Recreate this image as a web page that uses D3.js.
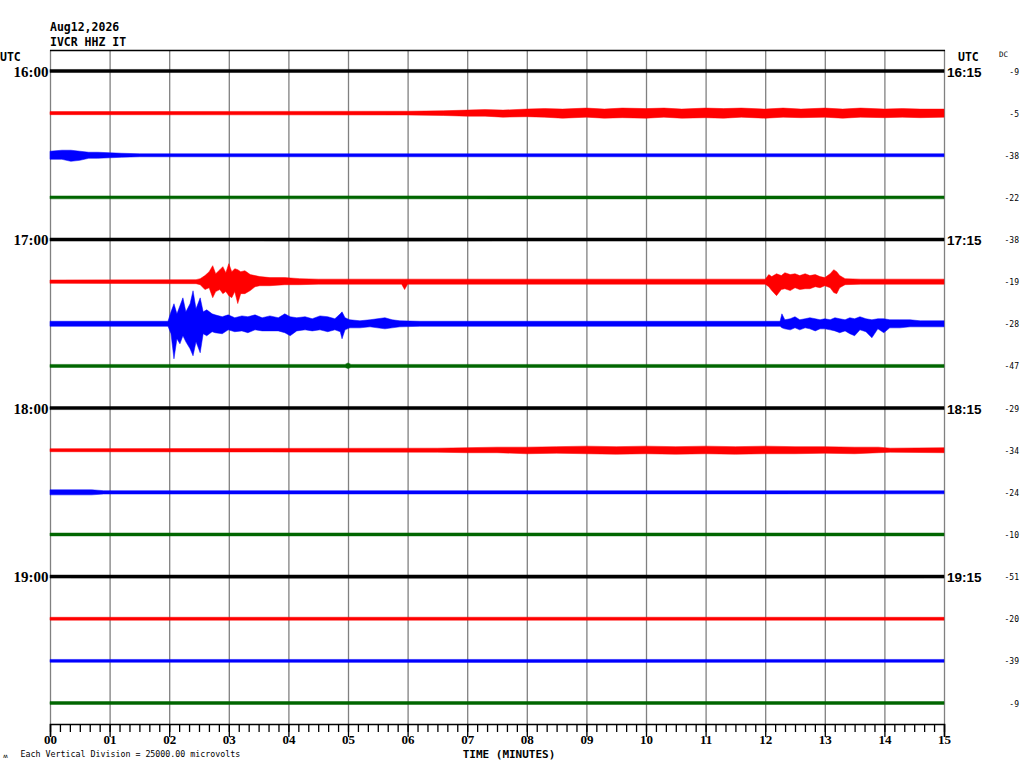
<!DOCTYPE html>
<html>
<head>
<meta charset="utf-8">
<script src="https://cdn.jsdelivr.net/npm/d3@7"></script>
<style>
  body { margin: 0; background: #fff; }
  svg { display: block; }
  .mono { font-family: "DejaVu Sans Mono", monospace; font-weight: bold; }
</style>
</head>
<body>
<svg id="chart" width="1024" height="768"></svg>
<script>
'use strict';

// Helicorder rows: one per 15 minutes
var rowStarts = ['16:00', '16:15', '16:30', '16:45', '17:00', '17:15', '17:30', '17:45',
                 '18:00', '18:15', '18:30', '18:45', '19:00', '19:15', '19:30', '19:45'];
var hourLabels = ['16:00', '17:00', '18:00', '19:00'];
var rightLabels = ['16:15', '17:15', '18:15', '19:15'];
var dcOffsets = [-9, -5, -38, -22, -38, -19, -28, -47, -29, -34, -24, -10, -51, -20, -39, -9];
var minuteTicks = ['00', '01', '02', '03', '04', '05', '06', '07', '08', '09', '10', '11', '12', '13', '14', '15'];
var microvoltsPerDivision = 25000;

// envelopes: [minute, up (uV), down (uV)]
var trace1600 = [[0, 900, 900], [4, 950, 900], [8, 900, 950], [12, 950, 900], [15, 900, 900]];
var trace1615 = [[0, 900, 900], [6, 1100, 1100], [6.6, 1400, 1400], [7.0, 1800, 1800], [7.3, 2100, 1800],
                 [7.6, 1800, 2400], [8.0, 2400, 2100], [8.3, 2700, 2400], [8.6, 2400, 3000],
                 [9.0, 3000, 2400], [9.3, 2400, 3000], [9.6, 3000, 2700], [10.0, 2700, 3000],
                 [10.3, 3000, 2400], [10.6, 2400, 3000], [11.0, 3000, 2700], [11.3, 2700, 3000],
                 [11.6, 3000, 2400], [12.0, 2400, 3000], [12.3, 3000, 2400], [12.6, 2400, 2700],
                 [13.0, 3000, 2400], [13.3, 2400, 3000], [13.6, 3000, 2400], [14.0, 2400, 2700],
                 [14.3, 2700, 2400], [14.6, 2400, 2700], [15, 2400, 2400]];
var trace1630 = [[0, 2400, 2400], [0.2, 3000, 2400], [0.35, 3000, 3600], [0.5, 2400, 3000],
                 [0.65, 1800, 1800], [0.8, 1800, 1800], [1.0, 1500, 1500], [1.2, 1200, 1200],
                 [1.5, 900, 900], [15, 900, 900]];
var trace1645 = [[0, 850, 850], [5, 900, 850], [10, 850, 900], [15, 850, 850]];
var trace1700 = [[0, 900, 900], [5, 950, 950], [10, 900, 900], [15, 900, 900]];
var trace1715 = [[0, 1000, 1000], [2.45, 1200, 1200], [2.52, 1800, 1800], [2.6, 3600, 4700],
                 [2.67, 5900, 3600], [2.73, 9500, 9500], [2.78, 4700, 5900], [2.85, 7100, 4700],
                 [2.9, 8900, 7100], [2.95, 5300, 5900], [3.0, 10700, 8300], [3.05, 5900, 9500],
                 [3.1, 7700, 5900], [3.15, 7100, 13000], [3.2, 5900, 7100], [3.27, 6500, 7100],
                 [3.36, 4200, 5300], [3.44, 3600, 3000], [3.52, 3000, 2400], [3.69, 2400, 2400],
                 [3.94, 2400, 1800], [4.19, 1800, 1800], [4.5, 1500, 1500], [5.9, 1500, 1500],
                 [5.95, 1500, 4700], [6.0, 1500, 1500], [12.0, 1500, 1500], [12.06, 4200, 3000],
                 [12.11, 3000, 5300], [12.19, 4700, 8300], [12.27, 3600, 4700], [12.33, 5300, 4200],
                 [12.42, 4200, 5300], [12.5, 4700, 3600], [12.58, 3600, 4700], [12.67, 4700, 4200],
                 [12.75, 3600, 4200], [12.84, 4200, 3000], [12.92, 3000, 3600], [13.0, 2400, 2400],
                 [13.09, 4700, 3600], [13.15, 7100, 6500], [13.2, 5900, 7100], [13.25, 3600, 3600],
                 [13.34, 1800, 1800], [13.6, 1500, 1500], [15, 1500, 1500]];
var trace1730 = [[0, 1500, 1500], [1.98, 1500, 1500], [2.03, 7100, 5900], [2.08, 11900, 20800],
                 [2.13, 5900, 8900], [2.18, 10700, 11900], [2.23, 15400, 7100], [2.28, 7100, 10700],
                 [2.35, 11900, 14800], [2.4, 19600, 19000], [2.45, 8900, 10700], [2.52, 15400, 17200],
                 [2.57, 7100, 5900], [2.63, 8300, 7100], [2.72, 5900, 4700], [2.77, 5300, 5300],
                 [2.89, 4200, 5900], [2.99, 5300, 3600], [3.1, 3600, 4700], [3.22, 4700, 4200],
                 [3.32, 4200, 5300], [3.44, 5300, 3600], [3.56, 3600, 4200], [3.69, 4700, 4200],
                 [3.83, 3600, 4200], [3.94, 5900, 5300], [4.03, 4200, 7100], [4.14, 3600, 4200],
                 [4.28, 4200, 3600], [4.4, 3000, 4200], [4.53, 4700, 3600], [4.66, 4200, 4700],
                 [4.78, 3000, 3600], [4.87, 5900, 4700], [4.9, 7100, 8900], [4.95, 3600, 3600],
                 [5.03, 2400, 2400], [5.2, 1800, 2400], [5.37, 2400, 1800], [5.62, 3600, 3000],
                 [5.74, 2400, 2400], [5.87, 1800, 1800], [6.2, 1500, 1500], [12.25, 1500, 1500],
                 [12.28, 5900, 2400], [12.33, 2400, 3000], [12.42, 3000, 3600], [12.5, 4200, 2400],
                 [12.58, 2400, 3600], [12.67, 3000, 2400], [12.75, 3600, 3000], [12.84, 3000, 4200],
                 [12.92, 2400, 3000], [13.0, 3000, 3000], [13.09, 2400, 3600], [13.17, 3600, 4200],
                 [13.25, 3000, 5300], [13.34, 2400, 4200], [13.42, 3600, 5900], [13.5, 3000, 7100],
                 [13.59, 4200, 3600], [13.69, 3000, 4700], [13.79, 2400, 8300], [13.89, 3000, 3000],
                 [13.99, 3000, 5300], [14.09, 2400, 2400], [14.26, 2400, 2400], [14.43, 2400, 1800],
                 [14.6, 1800, 1800], [15, 1800, 1800]];
var trace1745 = [[0, 900, 900], [4.95, 900, 900], [5.0, 1800, 1500], [5.05, 900, 900], [15, 900, 900]];
var trace1800 = [[0, 900, 900], [5, 950, 900], [10, 900, 950], [15, 900, 900]];
var trace1815 = [[0, 900, 900], [6.5, 1200, 1200], [7.0, 1500, 1500], [7.5, 1800, 1500], [8.0, 1800, 2100],
                 [8.5, 2100, 1800], [9.0, 2400, 2100], [9.5, 2100, 2400], [10.0, 2400, 2100],
                 [10.5, 2100, 2400], [11.0, 2400, 2100], [11.5, 2100, 2400], [12.0, 2400, 2100],
                 [12.5, 2100, 2100], [13.0, 2100, 1800], [13.5, 1800, 2100], [13.9, 1800, 1500],
                 [14.1, 1200, 1200], [15, 1500, 1500]];
var trace1830 = [[0, 1500, 1500], [0.7, 1500, 1500], [0.9, 1000, 1000], [15, 900, 900]];
var trace1845 = [[0, 850, 850], [7, 900, 850], [15, 850, 850]];
var trace1900 = [[0, 900, 900], [6, 950, 950], [15, 900, 900]];
var trace1915 = [[0, 850, 850], [8, 900, 850], [15, 850, 850]];
var trace1930 = [[0, 850, 850], [8, 850, 900], [15, 850, 850]];
var trace1945 = [[0, 850, 850], [7, 900, 850], [15, 850, 850]];

var traces = [trace1600, trace1615, trace1630, trace1645, trace1700, trace1715, trace1730, trace1745,
              trace1800, trace1815, trace1830, trace1845, trace1900, trace1915, trace1930, trace1945];

var COLORS = ['#000000', '#ff0000', '#0000ff', '#006600'];

var svg = d3.select('#chart');
var plotLeft = 50, plotRight = 944, plotTop = 50, plotBottom = 724;

var x = d3.scaleLinear().domain([0, 15]).range([plotLeft, plotRight]);
var rowY = d3.scalePoint().domain(rowStarts).range([71, 703]);
var spacing = rowY.step();
var amp = d3.scaleLinear().domain([0, microvoltsPerDivision]).range([0, spacing]);

// minute grid
svg.append('g')
  .selectAll('line')
  .data(d3.range(0, 16))
  .enter().append('line')
  .attr('x1', function(d) { return x(d) + 0.5; })
  .attr('x2', function(d) { return x(d) + 0.5; })
  .attr('y1', plotTop)
  .attr('y2', plotBottom)
  .attr('stroke', '#808080')
  .attr('stroke-width', 1.3);

svg.append('line')
  .attr('x1', plotLeft).attr('x2', plotRight + 1)
  .attr('y1', plotTop + 0.5).attr('y2', plotTop + 0.5)
  .attr('stroke', '#000').attr('stroke-width', 1.3);

// traces
traces.forEach(function(trace, i) {
  var cy = rowY(rowStarts[i]);
  var area = d3.area()
    .x(function(d) { return x(d[0]); })
    .y0(function(d) { return cy + amp(d[2]); })
    .y1(function(d) { return cy - amp(d[1]); });

  svg.append('path')
    .datum(trace)
    .attr('d', area)
    .attr('fill', COLORS[i % 4])
    .attr('stroke', COLORS[i % 4])
    .attr('stroke-width', 0.5)
    .attr('stroke-linejoin', 'bevel');
});

// axis
var axisG = svg.append('g').attr('transform', 'translate(0,' + plotBottom + ')');

axisG.append('g')
  .call(d3.axisBottom(x)
    .tickValues(d3.range(0, 91).map(function(d) { return d / 6; }))
    .tickSize(8)
    .tickFormat(''))
  .call(function(g) {
    g.select('.domain').remove();
    g.selectAll('line').attr('stroke', '#000').attr('stroke-width', 1.3);
  });

axisG.append('g')
  .call(d3.axisBottom(x)
    .tickValues(d3.range(0, 16))
    .tickSize(13)
    .tickPadding(-2)
    .tickFormat(function(d) { return minuteTicks[d]; }))
  .call(function(g) {
    g.select('.domain').attr('stroke', '#000').attr('stroke-width', 1.5);
    g.selectAll('line').attr('stroke', '#000').attr('stroke-width', 1.3);
    g.selectAll('text')
      .attr('fill', '#000')
      .attr('font-family', '"Liberation Serif", serif')
      .attr('font-weight', 'bold')
      .attr('font-size', 13);
  });

svg.append('text')
  .attr('class', 'mono')
  .attr('x', (plotLeft + plotRight) / 2 + 12)
  .attr('y', 757.5)
  .attr('text-anchor', 'middle')
  .attr('font-size', 11)
  .text('TIME (MINUTES)');

// header
svg.append('text').attr('class', 'mono').attr('x', 50).attr('y', 30.5)
  .attr('font-size', 11.5).text('Aug12,2026');
svg.append('text').attr('class', 'mono').attr('x', 50).attr('y', 46)
  .attr('font-size', 11.5).text('IVCR HHZ IT');
svg.append('text').attr('class', 'mono').attr('x', 0).attr('y', 61)
  .attr('font-size', 11.5).text('UTC');
svg.append('text').attr('class', 'mono').attr('x', 958).attr('y', 61)
  .attr('font-size', 11.5).text('UTC');
svg.append('text').attr('x', 999).attr('y', 57)
  .attr('font-family', '"DejaVu Sans Mono", monospace').attr('font-size', 7.5).text('DC');

// hour labels on the left, end-of-row labels on the right
svg.append('g').selectAll('text')
  .data(hourLabels)
  .enter().append('text')
  .attr('x', 48.5)
  .attr('y', function(d) { return rowY(d) + 5.5; })
  .attr('text-anchor', 'end')
  .attr('font-family', '"Liberation Serif", serif')
  .attr('font-weight', 'bold')
  .attr('font-size', 15)
  .text(function(d) { return d; });

svg.append('g').selectAll('text')
  .data(rightLabels)
  .enter().append('text')
  .attr('x', 947)
  .attr('y', function(d, i) { return rowY(hourLabels[i]) + 5.5; })
  .attr('font-family', '"Liberation Sans", sans-serif')
  .attr('font-weight', 'bold')
  .attr('font-size', 13.5)
  .text(function(d) { return d; });

// DC offsets
svg.append('g').selectAll('text')
  .data(dcOffsets)
  .enter().append('text')
  .attr('x', 1019)
  .attr('y', function(d, i) { return rowY(rowStarts[i]) + 3.5; })
  .attr('text-anchor', 'end')
  .attr('font-family', '"DejaVu Sans Mono", monospace')
  .attr('font-size', 8)
  .text(function(d) { return d; });

// footer
svg.append('text').attr('x', 20.5).attr('y', 756.5)
  .attr('font-family', '"DejaVu Sans Mono", monospace').attr('font-size', 8.3)
  .text('Each Vertical Division = 25000.00 microvolts');
svg.append('text').attr('x', 3).attr('y', 758)
  .attr('font-family', '"DejaVu Sans", sans-serif').attr('font-size', 6)
  .text('ʍ');
</script>
</body>
</html>
